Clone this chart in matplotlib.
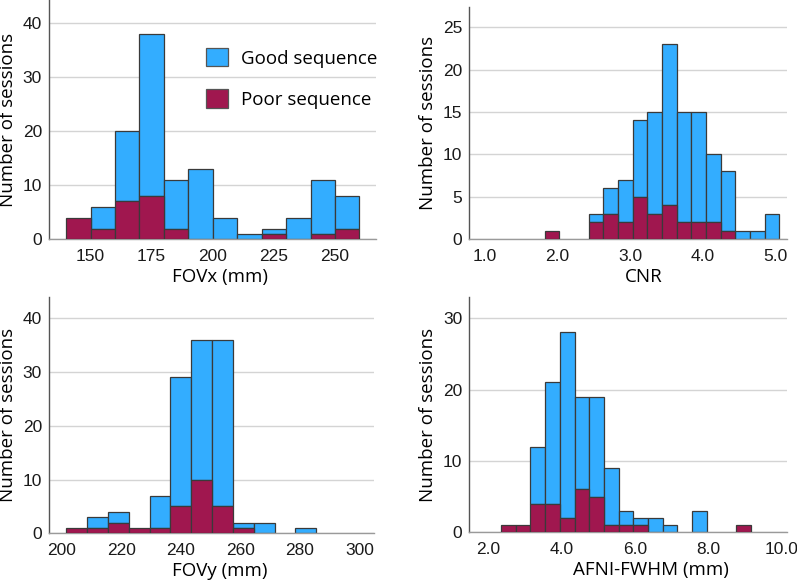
import matplotlib
matplotlib.use("Agg")
import matplotlib.pyplot as plt
from matplotlib.patches import Patch
import numpy as np

# colours
GOOD = '#33adff'
POOR = '#a0174f'
EDGE = '#3a3a3a'

# FOVx (mm), bins of 10 from 140
fovx_start, fovx_width = 140, 10
fovx_good = [0, 4, 13, 30, 9, 13, 4, 1, 1, 4, 10, 6]
fovx_poor = [4, 2, 7, 8, 2, 0, 0, 0, 1, 0, 1, 2]

# CNR, bins of ~0.2
cnr_start, cnr_width = 1.82, 0.2025
cnr_good = [0, 0, 0, 1, 3, 5, 9, 12, 19, 13, 13, 8, 7, 1, 1, 3]
cnr_poor = [1, 0, 0, 2, 3, 2, 5, 3, 4, 2, 2, 2, 1, 0, 0, 0]

# FOVy (mm), bins of ~7
fovy_start, fovy_width = 201.5, 7.0
fovy_good = [0, 2, 2, 0, 6, 24, 26, 31, 1, 2, 0, 1]
fovy_poor = [1, 1, 2, 1, 1, 5, 10, 5, 1, 0, 0, 0]

# AFNI-FWHM (mm), bins of ~0.4
fwhm_start, fwhm_width = 2.35, 0.401
fwhm_good = [0, 0, 8, 17, 26, 13, 14, 8, 2, 1, 2, 1, 0, 3, 0, 0, 0]
fwhm_poor = [1, 1, 4, 4, 2, 6, 5, 1, 1, 1, 0, 0, 0, 0, 0, 0, 1]

LABEL_FONT = ['Open Sans', 'DejaVu Sans']
TICK_FONT = ['Liberation Sans', 'DejaVu Sans']


def hist_panel(ax, start, width, good, poor, xlim, ylim, xticks, yticks, xfmt, xlabel, xlab_pos):
    good = np.array(good)
    poor = np.array(poor)
    left = start + width * np.arange(len(good))
    m = poor > 0
    ax.bar(left[m], poor[m], width=width, align='edge', color=POOR,
           edgecolor=EDGE, linewidth=0.9, zorder=3)
    m = good > 0
    ax.bar(left[m], good[m], bottom=poor[m], width=width, align='edge',
           color=GOOD, edgecolor=EDGE, linewidth=0.9, zorder=2)
    ax.set_xlim(*xlim)
    ax.set_ylim(*ylim)
    ax.set_xticks(xticks)
    ax.set_xticklabels([xfmt.format(v) for v in xticks], family=TICK_FONT, fontsize=12.5)
    ax.set_yticks(yticks)
    ax.set_yticklabels([str(v) for v in yticks], family=TICK_FONT, fontsize=12.5)
    ax.tick_params(axis='both', length=0, colors='#1a1a1a')
    ax.tick_params(axis='y', pad=5)
    ax.tick_params(axis='x', pad=7)
    ax.yaxis.grid(True, color='#d4d4d4', linewidth=1.0, zorder=0)
    ax.set_axisbelow(True)
    for s in ('top', 'right'):
        ax.spines[s].set_visible(False)
    ax.spines['left'].set_color('#555555')
    ax.spines['bottom'].set_color('#9a9a9a')
    ax.spines['left'].set_linewidth(1.0)
    ax.spines['bottom'].set_linewidth(1.0)
    ax.set_xlabel(xlabel, family=LABEL_FONT, fontsize=13.5, labelpad=3)
    ax.xaxis.label.set_x(xlab_pos)
    ax.set_ylabel('Number of sessions', family=LABEL_FONT, fontsize=13.5, labelpad=4)


fig = plt.figure(figsize=(7.97, 5.80), dpi=100)
ax1 = fig.add_axes([0.0615, 0.5874, 0.4103, 0.4126])
ax2 = fig.add_axes([0.5888, 0.5874, 0.3982, 0.4010])
ax3 = fig.add_axes([0.0615, 0.0805, 0.4082, 0.4080])
ax4 = fig.add_axes([0.5888, 0.0822, 0.3982, 0.4062])

hist_panel(ax1, fovx_start, fovx_width, fovx_good, fovx_poor,
           (133.0, 266.8), (0, 44.3), [150, 175, 200, 225, 250],
           [0, 10, 20, 30, 40], '{:d}', 'FOVx (mm)', 0.523)
hist_panel(ax2, cnr_start, cnr_width, cnr_good, cnr_poor,
           (0.78, 5.16), (0, 27.4), [1.0, 2.0, 3.0, 4.0, 5.0],
           [0, 5, 10, 15, 20, 25], '{:.1f}', 'CNR', 0.549)
hist_panel(ax3, fovy_start, fovy_width, fovy_good, fovy_poor,
           (195.7, 305.0), (0, 44.0), [200, 220, 240, 260, 280, 300],
           [0, 10, 20, 30, 40], '{:d}', 'FOVy (mm)', 0.526)
hist_panel(ax4, fwhm_start, fwhm_width, fwhm_good, fwhm_poor,
           (1.48, 10.15), (0, 33.0), [2.0, 4.0, 6.0, 8.0, 10.0],
           [0, 10, 20, 30], '{:.1f}', 'AFNI-FWHM (mm)', 0.572)

handles = [Patch(facecolor=GOOD, edgecolor='#555555', linewidth=0.9, label='Good sequence'),
           Patch(facecolor=POOR, edgecolor='#555555', linewidth=0.9, label='Poor sequence')]
ax1.legend(handles=handles, frameon=False, loc='upper left',
           bbox_to_anchor=(0.480, 0.80), borderpad=0, borderaxespad=0,
           handlelength=1.15, handleheight=1.15, handletextpad=0.72,
           labelspacing=1.15, prop={'family': LABEL_FONT, 'size': 13.5})

fig.savefig('out.png', dpi=100)
